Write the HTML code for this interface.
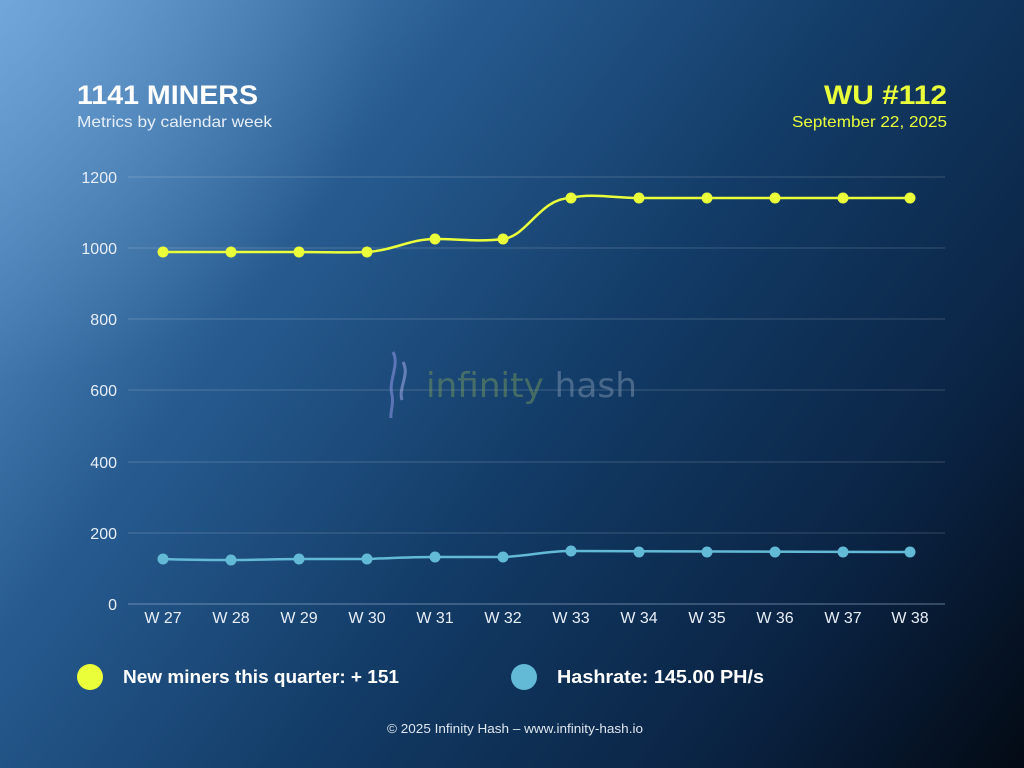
<!DOCTYPE html>
<html><head><meta charset="utf-8"><style>
html,body{margin:0;padding:0;width:1024px;height:768px;overflow:hidden}
svg{display:block;font-family:"Liberation Sans",sans-serif}
</style></head><body>
<svg width="1024" height="768" viewBox="0 0 1024 768" xmlns="http://www.w3.org/2000/svg">
<defs>
<linearGradient id="bg" x1="0" y1="0" x2="1024" y2="768" gradientUnits="userSpaceOnUse">
<stop offset="0" stop-color="#629bd2"/>
<stop offset="0.3" stop-color="#275b90"/>
<stop offset="0.55" stop-color="#123b66"/>
<stop offset="0.8" stop-color="#0a2343"/>
<stop offset="1" stop-color="#030a14"/>
</linearGradient>
<radialGradient id="glow" cx="0" cy="0" r="380" gradientUnits="userSpaceOnUse">
<stop offset="0" stop-color="#8ab8e6" stop-opacity="0.4"/>
<stop offset="1" stop-color="#8ab8e6" stop-opacity="0"/>
</radialGradient>
</defs>
<rect width="1024" height="768" fill="url(#bg)"/>
<rect width="1024" height="768" fill="url(#glow)"/>

<text x="77" y="104" fill="#fff" font-size="27" font-weight="bold" textLength="181" lengthAdjust="spacingAndGlyphs">1141 MINERS</text>
<text x="77" y="127" fill="#e6eef7" font-size="16" textLength="195" lengthAdjust="spacingAndGlyphs">Metrics by calendar week</text>
<text x="947" y="104" fill="#eaff3a" font-size="27" font-weight="bold" text-anchor="end" textLength="123" lengthAdjust="spacingAndGlyphs">WU #112</text>
<text x="947" y="127" fill="#eaff3a" font-size="16" text-anchor="end" textLength="155" lengthAdjust="spacingAndGlyphs">September 22, 2025</text>

<g stroke="#ffffff" stroke-opacity="0.18" stroke-width="1">
<line x1="128" y1="177" x2="945" y2="177"/>
<line x1="128" y1="248" x2="945" y2="248"/>
<line x1="128" y1="319" x2="945" y2="319"/>
<line x1="128" y1="390" x2="945" y2="390"/>
<line x1="128" y1="462" x2="945" y2="462"/>
<line x1="128" y1="533" x2="945" y2="533"/>
</g>
<line x1="128" y1="604" x2="945" y2="604" stroke="#9fb8d4" stroke-opacity="0.6"/>

<g fill="#e8eef6" font-size="16" text-anchor="end">
<text x="117" y="183">1200</text><text x="117" y="254">1000</text><text x="117" y="325">800</text>
<text x="117" y="396">600</text><text x="117" y="468">400</text><text x="117" y="539">200</text><text x="117" y="610">0</text>
</g>
<g fill="#e8eef6" font-size="16" text-anchor="middle">
<text x="163" y="623">W 27</text><text x="231" y="623">W 28</text><text x="299" y="623">W 29</text><text x="367" y="623">W 30</text>
<text x="435" y="623">W 31</text><text x="503" y="623">W 32</text><text x="571" y="623">W 33</text><text x="639" y="623">W 34</text>
<text x="707" y="623">W 35</text><text x="775" y="623">W 36</text><text x="843" y="623">W 37</text><text x="910" y="623">W 38</text>
</g>

<!-- watermark -->
<g opacity="0.45">
<path d="M393 352 C400 365 388 380 392 395 C394 405 390 412 391 418" stroke="#a8a8ff" stroke-width="3" fill="none"/>
<path d="M403 362 C410 375 398 388 402 400" stroke="#c0c0ff" stroke-width="3" fill="none"/>
<text x="426" y="397" font-size="34" fill="#7ea05a" font-family="DejaVu Sans,sans-serif" textLength="211" lengthAdjust="spacingAndGlyphs">infinity <tspan fill="#8a9fb8">hash</tspan></text>
</g>

<path d="M163 252 L299 252 C330 252 345 253 367 252 C395 250 410 239 435 239 C460 239 480 242 503 239 C528 236 540 198 571 198 C590 193 615 198 639 198 L910 198" stroke="#eaff3a" stroke-width="2.5" fill="none"/>
<g fill="#eaff3a">
<circle cx="163" cy="252" r="5.5"/><circle cx="231" cy="252" r="5.5"/><circle cx="299" cy="252" r="5.5"/><circle cx="367" cy="252" r="5.5"/>
<circle cx="435" cy="239" r="5.5"/><circle cx="503" cy="239" r="5.5"/><circle cx="571" cy="198" r="5.5"/><circle cx="639" cy="198" r="5.5"/>
<circle cx="707" cy="198" r="5.5"/><circle cx="775" cy="198" r="5.5"/><circle cx="843" cy="198" r="5.5"/><circle cx="910" cy="198" r="5.5"/>
</g>

<path d="M163 559 C190 560 205 560 231 560 C260 560 275 559 299 559 L367 559 C395 558 410 557 435 557 L503 557 C530 556 545 551 571 551 L910 552" stroke="#62bad6" stroke-width="2.5" fill="none"/>
<g fill="#62bad6">
<circle cx="163" cy="559" r="5.5"/><circle cx="231" cy="560" r="5.5"/><circle cx="299" cy="559" r="5.5"/><circle cx="367" cy="559" r="5.5"/>
<circle cx="435" cy="557" r="5.5"/><circle cx="503" cy="557" r="5.5"/><circle cx="571" cy="551" r="5.5"/><circle cx="639" cy="552" r="5.5"/>
<circle cx="707" cy="552" r="5.5"/><circle cx="775" cy="552" r="5.5"/><circle cx="843" cy="552" r="5.5"/><circle cx="910" cy="552" r="5.5"/>
</g>

<circle cx="90" cy="677" r="13" fill="#eaff3a"/>
<text x="123" y="683" fill="#fff" font-size="18" font-weight="bold" textLength="276" lengthAdjust="spacingAndGlyphs">New miners this quarter: + 151</text>
<circle cx="524" cy="677" r="13" fill="#62bad6"/>
<text x="557" y="683" fill="#fff" font-size="18" font-weight="bold" textLength="207" lengthAdjust="spacingAndGlyphs">Hashrate: 145.00 PH/s</text>

<text x="515" y="733" fill="#dfe6ee" font-size="13" text-anchor="middle" textLength="256" lengthAdjust="spacingAndGlyphs">© 2025 Infinity Hash – www.infinity-hash.io</text>
</svg>
</body></html>
